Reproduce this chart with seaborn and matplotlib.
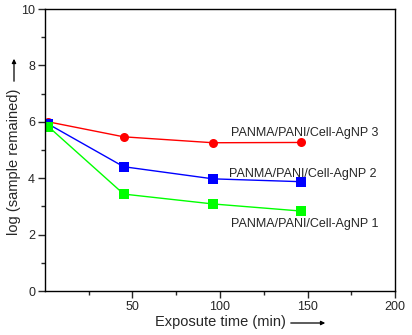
import matplotlib
matplotlib.use("Agg")
import matplotlib.pyplot as plt
import seaborn as sns
import pandas as pd

time = [2, 45, 96, 146]
agnp3 = [6.00, 5.47, 5.26, 5.27]
agnp2 = [5.92, 4.41, 3.98, 3.88]
agnp1 = [5.83, 3.44, 3.09, 2.84]
series_names = ["PANMA/PANI/Cell-AgNP 3", "PANMA/PANI/Cell-AgNP 2", "PANMA/PANI/Cell-AgNP 1"]
xticks = [50, 100, 150, 200]
yticks = [0, 2, 4, 6, 8, 10]

rows = []
for name, vals in zip(series_names, [agnp3, agnp2, agnp1]):
    for t, v in zip(time, vals):
        rows.append({"time": t, "value": v, "series": name})
df = pd.DataFrame(rows)

sns.set_style("ticks")
plt.rcParams['font.family'] = ['Liberation Sans', 'DejaVu Sans']

fig = plt.figure(figsize=(4.12, 3.35), dpi=100)
ax = fig.add_axes([0.109, 0.131, 0.850, 0.842])

palette = {series_names[0]: "#ff0000", series_names[1]: "#0000ff", series_names[2]: "#00ff00"}
markers = {series_names[0]: "o", series_names[1]: "s", series_names[2]: "s"}
sns.lineplot(data=df, x="time", y="value", hue="series", style="series",
             palette=palette, markers=markers, dashes=False, ax=ax,
             linewidth=1.0, markersize=6.5, markeredgewidth=0, legend=False)

ax.set_xlim(0, 200)
ax.set_ylim(0, 10)
ax.set_xticks(xticks)
ax.set_yticks(yticks)
ax.set_xticks([25, 75, 125, 175], minor=True)
ax.set_yticks([1, 3, 5, 7, 9], minor=True)
ax.tick_params(axis='both', which='major', length=5, width=1, labelsize=9, direction='out', pad=2)
ax.tick_params(axis='both', which='minor', length=3, width=1, direction='out')
for s in ax.spines.values():
    s.set_linewidth(1.0)
    s.set_color("black")
ax.set_xlabel("")
ax.set_ylabel("")

# series labels
ax.text(106, 5.6, series_names[0], fontsize=9, va='center', ha='left')
ax.text(105, 4.15, series_names[1], fontsize=9, va='center', ha='left')
ax.text(106, 2.38, series_names[2], fontsize=9, va='center', ha='left')

# axis labels with arrows
fig.text(155/412, 1 - 322/335, "Exposute time (min)", fontsize=10.5, ha='left', va='center')
fig.add_artist(matplotlib.patches.FancyArrowPatch((288/412, 1 - 323/335), (328/412, 1 - 323/335),
               transform=fig.transFigure, arrowstyle='-|>', mutation_scale=6, lw=0.9, color='black'))
fig.text(14/412, 1 - 162/335, "log (sample remained)", fontsize=10.5, ha='center', va='center', rotation=90)
fig.add_artist(matplotlib.patches.FancyArrowPatch((14/412, 1 - 84/335), (14/412, 1 - 56/335),
               transform=fig.transFigure, arrowstyle='-|>', mutation_scale=6, lw=0.9, color='black'))

fig.savefig("out.png", dpi=100)
